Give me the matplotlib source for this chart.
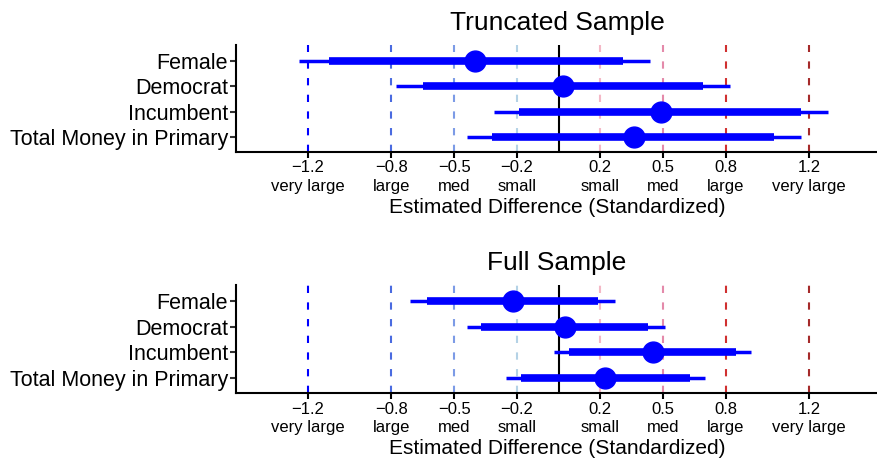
import numpy as np
import matplotlib
matplotlib.use("Agg")
import matplotlib.pyplot as plt

plt.rcParams['font.family'] = ['Liberation Sans', 'DejaVu Sans']

# Variables (top to bottom)
variables = ['Female', 'Democrat', 'Incumbent', 'Total Money in Primary']

# Truncated sample: point estimate, inner (thick) interval, outer (thin) interval
trunc_est = [-0.40, 0.02, 0.49, 0.36]
trunc_lo_in = [-1.10, -0.65, -0.19, -0.32]
trunc_hi_in = [0.31, 0.69, 1.16, 1.03]
trunc_lo_out = [-1.24, -0.78, -0.31, -0.44]
trunc_hi_out = [0.44, 0.82, 1.29, 1.16]

# Full sample
full_est = [-0.22, 0.03, 0.45, 0.22]
full_lo_in = [-0.63, -0.37, 0.05, -0.18]
full_hi_in = [0.19, 0.43, 0.85, 0.63]
full_lo_out = [-0.71, -0.44, -0.02, -0.25]
full_hi_out = [0.27, 0.51, 0.92, 0.70]

# Effect size reference lines
ref_vals = [-1.2, -0.8, -0.5, -0.2, 0.2, 0.5, 0.8, 1.2]
ref_names = ['very large', 'large', 'med', 'small', 'small', 'med', 'large', 'very large']
ref_colors = ['#0000FF', '#4A6BE0', '#7C9BE6', '#B4D2E6',
              '#F4B8C6', '#E48AAA', '#D03030', '#A52A2A']


def coef_panel(ax, title, est, lo_in, hi_in, lo_out, hi_out):
    y = np.arange(len(variables))[::-1] + 1
    ax.axvline(0, color='black', lw=1.5, zorder=1)
    for v, c in zip(ref_vals, ref_colors):
        ax.axvline(v, color=c, lw=1.5, dashes=(3.5, 4.5), zorder=2)
    ax.hlines(y, lo_out, hi_out, color='#0000FF', lw=2.5, zorder=3)
    ax.hlines(y, lo_in, hi_in, color='#0000FF', lw=5.5, zorder=4)
    ax.plot(est, y, 'o', color='#0000FF', ms=15, zorder=5)
    ax.set_xlim(-1.543, 1.529)
    ax.set_ylim(0.4, 4.63)
    ax.set_yticks(y)
    ax.set_yticklabels(variables, fontsize=15.5)
    ax.set_xticks(ref_vals)
    ax.set_xticklabels([f'{v:.1f}'.replace('-', '\u2212') + '\n' + n
                        for v, n in zip(ref_vals, ref_names)], fontsize=12,
                       linespacing=1.3)
    for t, c in zip(ax.xaxis.get_ticklines(), np.repeat(ref_colors, 2)):
        t.set_color(c)
    ax.tick_params(axis='x', length=4, width=1.5, pad=2)
    ax.tick_params(axis='y', length=4, width=1.5, color='#333333', pad=2)
    ax.set_xlabel('Estimated Difference (Standardized)', fontsize=15, labelpad=3)
    ax.set_title(title, fontsize=19, pad=11)
    for s in ['top', 'right']:
        ax.spines[s].set_visible(False)
    for s in ['left', 'bottom']:
        ax.spines[s].set_linewidth(1.5)


fig = plt.figure(figsize=(8.78, 4.67), dpi=100)
ax1 = fig.add_axes([0.269, 0.6745, 0.731, 0.229])
ax2 = fig.add_axes([0.269, 0.158, 0.731, 0.232])
coef_panel(ax1, 'Truncated Sample', trunc_est, trunc_lo_in, trunc_hi_in, trunc_lo_out, trunc_hi_out)
coef_panel(ax2, 'Full Sample', full_est, full_lo_in, full_hi_in, full_lo_out, full_hi_out)

fig.savefig('out.png', dpi=100)
